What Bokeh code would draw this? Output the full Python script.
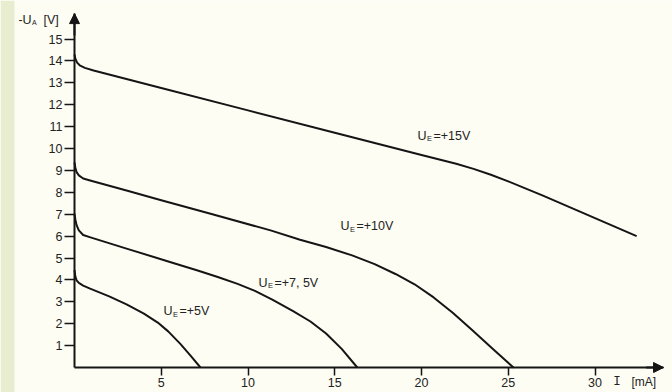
from bokeh.plotting import figure
from bokeh.models import Label, Arrow, NormalHead, FixedTicker, Range1d, BoxAnnotation
from bokeh.embed import file_html
from bokeh.resources import INLINE

# ---- data ----
X_TICKS = [5, 10, 15, 20, 25, 30]
Y_TICKS = list(range(1, 16))

ue15_x = [0, 0.05, 0.15, 0.3, 0.6, 1.1, 5, 10, 15, 20, 22, 23, 24, 25, 27, 29, 30.7, 32.4]
ue15_y = [14.3, 14.1, 13.92, 13.8, 13.68, 13.56, 12.76, 11.74, 10.72, 9.70, 9.30, 9.07, 8.80, 8.50, 7.85, 7.16, 6.58, 6.0]

ue10_x = [0, 0.05, 0.12, 0.25, 0.5, 0.9, 3, 5, 8, 11.3, 13, 14.5, 16, 17.3, 18.5, 19.6, 20.7, 21.8, 22.9, 24.1, 25.3]
ue10_y = [9.36, 9.12, 8.92, 8.77, 8.63, 8.54, 8.08, 7.64, 6.99, 6.26, 5.83, 5.5, 5.12, 4.72, 4.27, 3.8, 3.2, 2.5, 1.72, 0.86, 0]

ue75_x = [0, 0.05, 0.12, 0.25, 0.5, 0.92, 3, 5.5, 7.1, 8.3, 9.4, 10.4, 11.4, 12.6, 13.6, 14.5, 15.4, 16.3]
ue75_y = [7.03, 6.75, 6.5, 6.26, 6.05, 5.94, 5.43, 4.82, 4.43, 4.12, 3.82, 3.5, 3.1, 2.57, 2.1, 1.55, 0.85, 0]

ue5_x = [0, 0.05, 0.12, 0.25, 0.5, 0.9, 2, 3, 4, 4.8, 5.4, 6.1, 6.7, 7.26]
ue5_y = [4.45, 4.15, 3.98, 3.86, 3.74, 3.6, 3.25, 2.88, 2.46, 2.05, 1.65, 1.08, 0.53, 0]

series = [(ue15_x, ue15_y), (ue10_x, ue10_y), (ue75_x, ue75_y), (ue5_x, ue5_y)]
curve_labels = ["=+15V", "=+10V", "=+7, 5V", "=+5V"]

# ---- styling ----
BG = "#fdfdf4"
INK = "#151515"
TXT = "#222222"
W, H = 672, 392
PX_X, PX_Y = 17.35, 21.9          # pixels per data unit
ORIGIN_X, ORIGIN_Y = 74, 367      # origin position inside the canvas
XSTART, XEND = -ORIGIN_X / PX_X, (W - ORIGIN_X) / PX_X
YSTART, YEND = -(H - ORIGIN_Y) / PX_Y, ORIGIN_Y / PX_Y
XMAX, YMAX = 33.95, 16.16          # arrow tips

p = figure(width=W, height=H, x_range=Range1d(XSTART, XEND), y_range=Range1d(YSTART, YEND),
           output_backend="svg", toolbar_location=None,
           min_border_left=0, min_border_right=0, min_border_top=0, min_border_bottom=0)
p.background_fill_color = BG
p.border_fill_color = BG
p.outline_line_color = None
p.grid.visible = False

for ax in (p.xaxis, p.yaxis):
    ax.fixed_location = 0
    ax.axis_line_width = 2
    ax.axis_line_color = INK
    ax.major_tick_line_width = 1.5
    ax.major_tick_line_color = INK
    ax.major_tick_in = 0
    ax.minor_tick_in = 0
    ax.minor_tick_out = 0
    ax.major_label_text_font = "Liberation Sans"
    ax.major_label_text_font_size = "12.5px"
    ax.major_label_text_color = TXT
    ax.major_label_standoff = 2
p.xaxis.ticker = FixedTicker(ticks=X_TICKS)
p.yaxis.ticker = FixedTicker(ticks=Y_TICKS)
p.xaxis.bounds = (0, XMAX)
p.yaxis.bounds = (0, YMAX)
p.xaxis.major_tick_out = 8
p.yaxis.major_tick_out = 10

# pale strip at the left edge of the scanned page
p.add_layout(BoxAnnotation(left=XSTART, right=XSTART + 14 / PX_X, fill_color="#e9edcf",
                           fill_alpha=1, line_alpha=0, level="underlay"))

for xs, ys in series:
    p.line(xs, ys, line_width=2, color=INK, line_join="round")

# axis arrows
p.add_layout(Arrow(end=NormalHead(size=10, fill_color=INK, line_color=INK, line_width=1),
                   x_start=0, y_start=YMAX - 1, x_end=0, y_end=YMAX, line_color=INK, line_width=2))
p.add_layout(Arrow(end=NormalHead(size=10, fill_color=INK, line_color=INK, line_width=1),
                   x_start=XMAX - 1, y_start=0, x_end=XMAX, y_end=0, line_color=INK, line_width=2))

FONT = "Liberation Sans"
label_pos = [(19.77, 10.59), (15.33, 6.44), (10.6, 3.88), (5.13, 2.56)]
for (lx, ly), txt in zip(label_pos, curve_labels):
    p.add_layout(Label(x=lx, y=ly, text="U", text_font=FONT, text_font_size="12.5px",
                       text_baseline="middle", text_color=TXT))
    p.add_layout(Label(x=lx, y=ly, x_offset=9.5, y_offset=-3, text="E", text_font=FONT,
                       text_font_size="7.5px", text_baseline="middle", text_color=TXT))
    p.add_layout(Label(x=lx, y=ly, x_offset=16, text=txt, text_font=FONT, text_font_size="12.5px",
                       text_baseline="middle", text_color=TXT))

# axis titles
p.add_layout(Label(x=-3.23, y=15.85, text="-U", text_font=FONT, text_font_size="12.5px",
                   text_baseline="middle", text_color=TXT))
p.add_layout(Label(x=-3.23, y=15.85, x_offset=13.5, y_offset=-2.5, text="A", text_font=FONT,
                   text_font_size="7px", text_baseline="middle", text_color=TXT))
p.add_layout(Label(x=-3.23, y=15.85, x_offset=25, text="[V]", text_font=FONT,
                   text_font_size="12.5px", text_baseline="middle", text_color=TXT))
p.add_layout(Label(x=31.05, y=-0.68, text="I", text_font="Liberation Mono",
                   text_font_size="12.5px", text_baseline="middle", text_color=TXT))
p.add_layout(Label(x=32.1, y=-0.68, text="[mA]", text_font=FONT,
                   text_font_size="12px", text_baseline="middle", text_color=TXT))

open("out.html", "w").write(file_html(p, INLINE))
